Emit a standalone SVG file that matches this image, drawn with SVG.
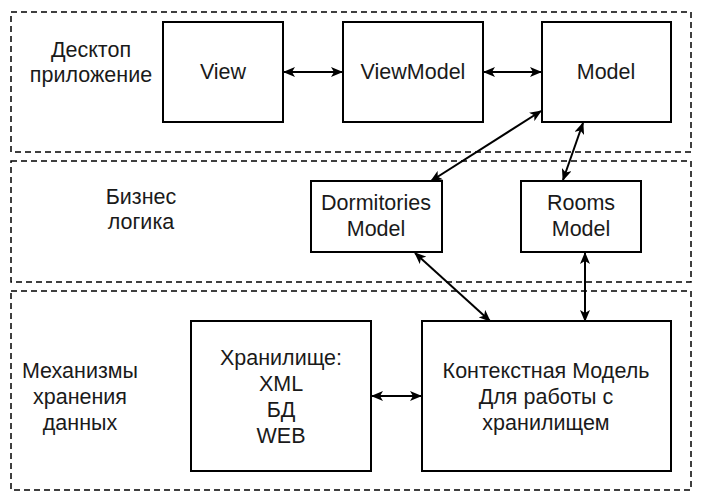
<svg xmlns="http://www.w3.org/2000/svg" width="702" height="502" viewBox="0 0 702 502">
<defs>
<marker id="ah" viewBox="0 0 12 10" refX="11" refY="5" markerWidth="12" markerHeight="10" markerUnits="userSpaceOnUse" orient="auto-start-reverse">
<path d="M0,0 L12,5 L0,10 L3,5 z" fill="#000"/>
</marker>
</defs>
<style>
.lane{fill:none;stroke:#000;stroke-width:1.5;stroke-dasharray:6,4}
.box{fill:#fff;stroke:#000;stroke-width:2}
.t{font-family:"Liberation Sans",Arial,sans-serif;font-size:21.5px;fill:#1a1a1a;text-anchor:middle}
.c{fill:none;stroke:#000;stroke-width:2;marker-start:url(#ah);marker-end:url(#ah)}
</style>
<rect width="702" height="502" fill="#fff"/>
<g id="lane-desktop"><rect class="lane" x="11" y="12" width="680" height="140"/>
<text class="t" x="91" y="57">Десктоп</text><text class="t" x="91" y="82">приложение</text></g>
<g id="lane-business"><rect class="lane" x="11" y="161" width="680" height="121"/>
<text class="t" x="141" y="204">Бизнес</text><text class="t" x="141" y="229">логика</text></g>
<g id="lane-storage"><rect class="lane" x="11" y="291" width="680" height="199"/>
<text class="t" x="80" y="378">Механизмы</text><text class="t" x="80" y="404">хранения</text><text class="t" x="80" y="430">данных</text></g>
<g id="view"><rect class="box" x="163" y="22" width="120" height="100"/><text class="t" x="223" y="79">View</text></g>
<g id="viewmodel"><rect class="box" x="343" y="22" width="140" height="100"/><text class="t" x="413" y="79">ViewModel</text></g>
<g id="model"><rect class="box" x="542" y="22" width="129" height="100"/><text class="t" x="606" y="79">Model</text></g>
<g id="dormitories"><rect class="box" x="311" y="181" width="131" height="71"/><text class="t" x="376" y="210">Dormitories</text><text class="t" x="376" y="236">Model</text></g>
<g id="rooms"><rect class="box" x="521" y="181" width="120" height="71"/><text class="t" x="581" y="210">Rooms</text><text class="t" x="581" y="236">Model</text></g>
<g id="storage"><rect class="box" x="191" y="321" width="180" height="150"/><text class="t" x="281" y="365">Хранилище:</text><text class="t" x="281" y="391">XML</text><text class="t" x="281" y="417">БД</text><text class="t" x="281" y="443">WEB</text></g>
<g id="context"><rect class="box" x="422" y="321" width="249" height="150"/><text class="t" x="546" y="378">Контекстная Модель</text><text class="t" x="546" y="404">Для работы с</text><text class="t" x="546" y="430">хранилищем</text></g>
<g id="connectors">
<line class="c" x1="284" y1="72" x2="342" y2="72"/>
<line class="c" x1="484" y1="72" x2="541" y2="72"/>
<line class="c" x1="541" y1="111" x2="431" y2="181"/>
<line class="c" x1="583" y1="123" x2="563" y2="180"/>
<line class="c" x1="415" y1="253" x2="490" y2="321"/>
<line class="c" x1="585" y1="253" x2="585" y2="321"/>
<line class="c" x1="372" y1="396" x2="421" y2="396"/>
</g>
</svg>
